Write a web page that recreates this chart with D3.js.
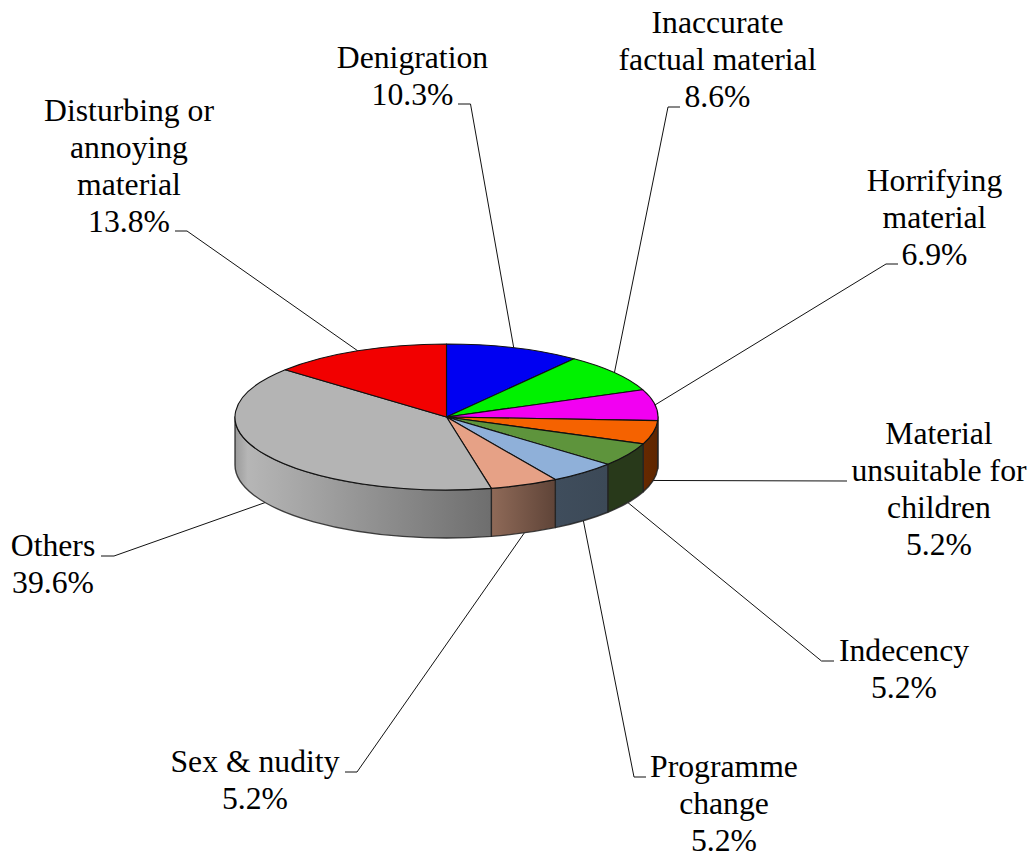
<!DOCTYPE html>
<html lang="en">
<head>
    <meta charset="utf-8"/>
    <title>Complaint categories</title>
    <style>
        html, body { margin: 0; padding: 0; background: #fff; }
        svg { display: block; }
        .lbl { font-family: "Liberation Serif", serif; font-size: 31.7px; fill: #000; text-anchor: middle; }
        .leader { fill: none; stroke: #111; stroke-width: 1; }
    </style>
</head>
<body>
<div id="graph"></div>
<script src="https://d3js.org/d3.v7.min.js"></script>
<script>
    var categories = ["Denigration", "Inaccurate factual material", "Horrifying material",
        "Material unsuitable for children", "Indecency", "Programme change", "Sex & nudity",
        "Others", "Disturbing or annoying material"];
    var values = [10.3, 8.6, 6.9, 5.2, 5.2, 5.2, 5.2, 39.6, 13.8];
    var labelLines = [
        ["Denigration", "10.3%"],
        ["Inaccurate", "factual material", "8.6%"],
        ["Horrifying", "material", "6.9%"],
        ["Material", "unsuitable for", "children", "5.2%"],
        ["Indecency", "5.2%"],
        ["Programme", "change", "5.2%"],
        ["Sex & nudity", "5.2%"],
        ["Others", "39.6%"],
        ["Disturbing or", "annoying", "material", "13.8%"]
    ];

    // styling and layout, same order as categories
    var topColors = ["#0000f2", "#00f200", "#f200f2", "#f56200", "#5e943c", "#8fb0d9", "#e6a186", "#b4b4b4", "#f20000"];
    var wallFrom = ["#0000a0", "#00a000", "#a000a0", "#662900", "#28391a", "#3f4d5c", "#8f6a58", "#b6b6b6", "#a00000"];
    var wallTo = ["#0000a0", "#00a000", "#a000a0", "#5e2600", "#28391a", "#3c4957", "#5f4438", "#6e6e6e", "#a00000"];
    var labelX = [412.5, 717.5, 934.5, 939, 904, 724, 255, 53, 129];
    var labelY = [67.5, 33, 191, 444, 661, 776.5, 772, 555.5, 120.5];
    var lineH = 37;
    // elbow and end of each leader line
    var elbows = [
        [[470.5, 104], [458, 104]],
        [[668, 107], [680, 107]],
        [[886, 264], [898, 264]],
        [[847, 481], [847, 481]],
        [[821.5, 661], [834, 661]],
        [[634, 777], [646, 777]],
        [[357, 772], [345, 772]],
        [[114, 556], [101, 556]],
        [[187, 231], [175, 231]]
    ];

    var width = 1036, height = 857;
    var cx = 446.5, cy = 417, rx = 211.5, ry = 73, depth = 48;

    var x = d3.scaleLinear().domain([-1, 1]).range([cx - rx, cx + rx]);
    var y = d3.scaleLinear().domain([-1, 1]).range([cy - ry, cy + ry]);

    function px(a) { return x(Math.sin(a)); }
    function py(a) { return y(-Math.cos(a)); }

    var pie = d3.pie().sort(null).value(function (d) { return d; });
    var arcs = pie(values);

    var svg = d3.select("#graph")
        .append("svg")
        .attr("width", width)
        .attr("height", height);

    var defs = svg.append("defs");
    arcs.forEach(function (d, i) {
        var a0 = Math.max(d.startAngle, Math.PI / 2), a1 = Math.min(d.endAngle, 3 * Math.PI / 2);
        if (a1 <= a0) return;
        var isOthers = categories[i] === "Others";
        var g = defs.append("linearGradient")
            .attr("id", "wall" + i)
            .attr("gradientUnits", "userSpaceOnUse")
            .attr("x1", isOthers ? x(-1) : px(a1)).attr("x2", px(a0))
            .attr("y1", 0).attr("y2", 0);
        if (isOthers) {
            g.append("stop").attr("offset", 0).attr("stop-color", "#9a9a9a");
            g.append("stop").attr("offset", 0.05).attr("stop-color", wallFrom[i]);
        } else {
            g.append("stop").attr("offset", 0).attr("stop-color", wallFrom[i]);
        }
        g.append("stop").attr("offset", 1).attr("stop-color", wallTo[i]);
    });

    // leader lines go under the pie
    svg.selectAll(".leader")
        .data(arcs)
        .enter()
        .append("polyline")
        .attr("class", "leader")
        .attr("points", function (d, i) {
            var mid = (d.startAngle + d.endAngle) / 2;
            var lower = Math.cos(mid) < 0;
            var start = [px(mid), py(mid) + (lower ? depth : 0)];
            return [start].concat(elbows[i]).join(" ");
        });

    // side walls, lower half of the ellipse only
    function wallPath(d) {
        var a0 = Math.max(d.startAngle, Math.PI / 2), a1 = Math.min(d.endAngle, 3 * Math.PI / 2);
        if (a1 <= a0) return null;
        return "M" + px(a0) + "," + py(a0)
            + "A" + rx + "," + ry + " 0 0 1 " + px(a1) + "," + py(a1)
            + "L" + px(a1) + "," + (py(a1) + depth)
            + "A" + rx + "," + ry + " 0 0 0 " + px(a0) + "," + (py(a0) + depth)
            + "Z";
    }

    svg.selectAll(".wall")
        .data(arcs.filter(function (d) { return d.endAngle > Math.PI / 2 && d.startAngle < 3 * Math.PI / 2; }))
        .enter()
        .append("path")
        .attr("class", "wall")
        .attr("d", wallPath)
        .attr("fill", function (d) { return "url(#wall" + d.index + ")"; })
        .attr("stroke", "#222")
        .attr("stroke-opacity", 0.85)
        .attr("stroke-width", 1.4)
        .attr("stroke-linejoin", "round");

    // top face
    function slicePath(d) {
        var large = d.endAngle - d.startAngle > Math.PI ? 1 : 0;
        return "M" + x(0) + "," + y(0)
            + "L" + px(d.startAngle) + "," + py(d.startAngle)
            + "A" + rx + "," + ry + " 0 " + large + " 1 " + px(d.endAngle) + "," + py(d.endAngle)
            + "Z";
    }

    svg.selectAll(".slice")
        .data(arcs)
        .enter()
        .append("path")
        .attr("class", "slice")
        .attr("d", slicePath)
        .attr("fill", function (d) { return topColors[d.index]; })
        .attr("stroke", "#111")
        .attr("stroke-width", 1.1)
        .attr("stroke-linejoin", "round");

    // labels
    labelLines.forEach(function (lines, i) {
        var t = svg.append("text").attr("class", "lbl");
        lines.forEach(function (s, k) {
            t.append("tspan")
                .attr("x", labelX[i])
                .attr("y", labelY[i] + k * lineH)
                .text(s);
        });
    });
</script>
</body>
</html>
